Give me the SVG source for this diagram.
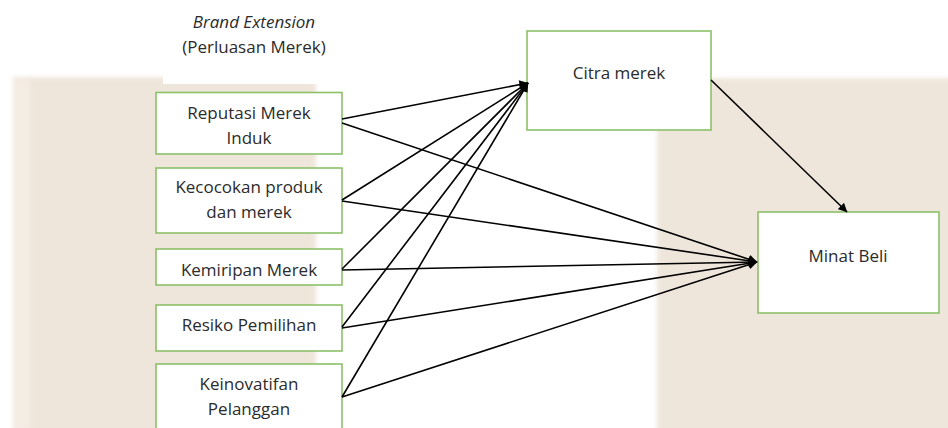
<svg xmlns="http://www.w3.org/2000/svg" width="948" height="428" viewBox="0 0 948 428">
<style>
.box{fill:#fff;stroke:#8cc168;stroke-width:1.6}
.t{font-family:"Open Sans","Noto Sans",sans-serif;font-size:17px;fill:#2b2b2b;text-anchor:middle}
.c{stroke:#000;stroke-width:1.6;fill:none}
</style>
<defs>
<marker id="ah" viewBox="0 0 10 10" refX="9.5" refY="5" markerWidth="10" markerHeight="9" markerUnits="userSpaceOnUse" orient="auto">
<path d="M0,0 L10,5 L0,10 z" fill="#000"/>
</marker>
<filter id="soft" x="-5%" y="-5%" width="110%" height="110%"><feGaussianBlur stdDeviation="2"/></filter>
</defs>
<rect width="948" height="428" fill="#fff"/>
<g id="background" filter="url(#soft)">
<rect x="13" y="77" width="303" height="360" fill="#efe6db"/>
<rect x="14" y="80" width="16" height="350" fill="#f4ede4"/>
<rect x="657" y="78" width="300" height="360" rx="6" fill="#efe6db"/>
</g>
<g id="title">
<rect x="163" y="0" width="180" height="84" fill="#fff"/>
<text class="t" x="254" y="28" font-style="italic">Brand Extension</text>
<text class="t" x="254" y="53">(Perluasan Merek)</text>
</g>
<g id="reputasi">
<rect class="box" x="156" y="92.5" width="186" height="61.5"/>
<text class="t" x="249" y="119">Reputasi Merek</text>
<text class="t" x="249" y="144">Induk</text>
</g>
<g id="kecocokan">
<rect class="box" x="156" y="168" width="186" height="65"/>
<text class="t" x="249" y="193">Kecocokan produk</text>
<text class="t" x="249" y="218">dan merek</text>
</g>
<g id="kemiripan">
<rect class="box" x="156" y="249" width="186" height="36"/>
<text class="t" x="249" y="276">Kemiripan Merek</text>
</g>
<g id="resiko">
<rect class="box" x="156" y="305" width="186" height="46"/>
<text class="t" x="249" y="331">Resiko Pemilihan</text>
</g>
<g id="keinovatifan">
<rect class="box" x="156" y="364" width="186" height="70"/>
<text class="t" x="249" y="390">Keinovatifan</text>
<text class="t" x="249" y="415">Pelanggan</text>
</g>
<g id="citra">
<rect class="box" x="527" y="31" width="184" height="99"/>
<text class="t" x="619" y="79">Citra merek</text>
</g>
<g id="minat">
<rect class="box" x="758" y="212" width="181" height="101"/>
<text class="t" x="848" y="262">Minat Beli</text>
</g>
<g id="connectors">
<line class="c" x1="342" y1="119" x2="528" y2="83" marker-end="url(#ah)"/>
<line class="c" x1="342" y1="200" x2="528" y2="83" marker-end="url(#ah)"/>
<line class="c" x1="342" y1="269" x2="528" y2="83" marker-end="url(#ah)"/>
<line class="c" x1="342" y1="327" x2="528" y2="83" marker-end="url(#ah)"/>
<line class="c" x1="342" y1="397" x2="528" y2="83" marker-end="url(#ah)"/>
<line class="c" x1="342" y1="123" x2="757" y2="262" marker-end="url(#ah)"/>
<line class="c" x1="342" y1="201" x2="757" y2="262" marker-end="url(#ah)"/>
<line class="c" x1="342" y1="270" x2="757" y2="262" marker-end="url(#ah)"/>
<line class="c" x1="342" y1="328" x2="757" y2="262" marker-end="url(#ah)"/>
<line class="c" x1="342" y1="397" x2="757" y2="262" marker-end="url(#ah)"/>
<line class="c" x1="711" y1="80" x2="847" y2="212" marker-end="url(#ah)"/>
</g>
</svg>
